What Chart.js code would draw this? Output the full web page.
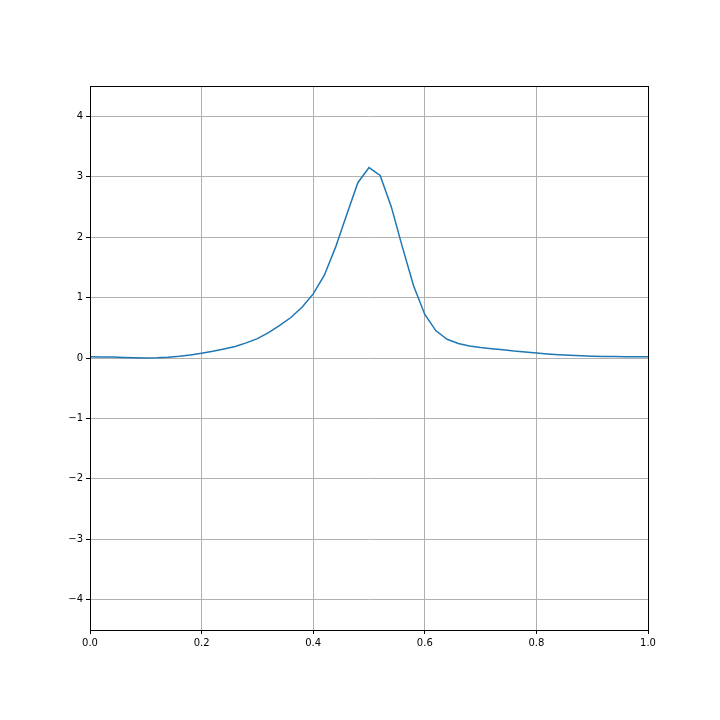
<!DOCTYPE html>
<html lang="en">
<head>
  <meta charset="UTF-8">
  <title>Curva</title>
  <script src="https://cdn.jsdelivr.net/npm/chart.js"></script>
  <style>
    body { margin: 0; background: #fff; }
    #grafico { display: block; }
  </style>
</head>
<body>
  <canvas id="grafico" width="720" height="720"></canvas>

<script>
  // x positions (step 0.02) and the curve
  const xs = [0.00, 0.02, 0.04, 0.06, 0.08, 0.10, 0.12, 0.14, 0.16, 0.18,
              0.20, 0.22, 0.24, 0.26, 0.28, 0.30, 0.32, 0.34, 0.36, 0.38,
              0.40, 0.42, 0.44, 0.46, 0.48, 0.50, 0.52, 0.54, 0.56, 0.58,
              0.60, 0.62, 0.64, 0.66, 0.68, 0.70, 0.72, 0.74, 0.76, 0.78,
              0.80, 0.82, 0.84, 0.86, 0.88, 0.90, 0.92, 0.94, 0.96, 0.98, 1.00];
  const ys = [0.020, 0.018, 0.015, 0.010, 0.005, 0.002, 0.004, 0.012, 0.028, 0.050,
              0.080, 0.110, 0.150, 0.190, 0.250, 0.320, 0.420, 0.540, 0.670, 0.840,
              1.060, 1.370, 1.830, 2.370, 2.900, 3.150, 3.020, 2.500, 1.830, 1.190,
              0.720, 0.450, 0.310, 0.240, 0.200, 0.175, 0.155, 0.135, 0.115, 0.100,
              0.082, 0.068, 0.055, 0.045, 0.037, 0.030, 0.026, 0.023, 0.021, 0.020, 0.020];
  const xTicks = [0, 0.2, 0.4, 0.6, 0.8, 1.0];
  const yTicks = [-4, -3, -2, -1, 0, 1, 2, 3, 4];

  const pontos = xs.map((x, i) => ({ x: x, y: ys[i] }));

  // frame around the plot area (top and right spines)
  const moldura = {
    id: 'moldura',
    afterDraw(chart) {
      const { ctx, chartArea: a } = chart;
      ctx.save();
      ctx.strokeStyle = '#000';
      ctx.lineWidth = 1;
      ctx.strokeRect(Math.round(a.left) + 0.5, Math.round(a.top) + 0.5,
                     Math.round(a.right - a.left), Math.round(a.bottom - a.top));
      ctx.restore();
    }
  };

  const fonte = { family: 'DejaVu Sans', size: 10 };

  new Chart(document.getElementById('grafico'), {
    type: 'scatter',
    data: {
      datasets: [{
        data: pontos,
        showLine: true,
        borderColor: '#1f77b4',
        borderWidth: 1.5,
        pointRadius: 0,
        tension: 0
      }]
    },
    options: {
      responsive: false,
      animation: false,
      layout: { padding: { top: 86, right: 72, bottom: 60, left: 0 } },
      plugins: { legend: { display: false }, tooltip: { enabled: false } },
      scales: {
        x: {
          type: 'linear',
          min: 0,
          max: 1,
          afterBuildTicks: (axis) => { axis.ticks = xTicks.map(v => ({ value: v })); },
          afterFit: (axis) => { axis.height = 30; },
          grid: { color: '#b0b0b0', tickColor: '#000', tickLength: 4 },
          border: { color: '#000' },
          ticks: {
            color: '#000',
            font: fonte,
            padding: 3,
            maxRotation: 0,
            callback: (v) => v.toFixed(1)
          }
        },
        y: {
          type: 'linear',
          min: -4.5,
          max: 4.5,
          afterBuildTicks: (axis) => { axis.ticks = yTicks.map(v => ({ value: v })); },
          afterFit: (axis) => { axis.width = 90; },
          grid: { color: '#b0b0b0', tickColor: '#000', tickLength: 4 },
          border: { color: '#000' },
          ticks: {
            color: '#000',
            font: fonte,
            padding: 3,
            callback: (v) => (v < 0 ? '\u2212' + Math.abs(v) : String(v))
          }
        }
      }
    },
    plugins: [moldura]
  });
</script>
</body>
</html>
